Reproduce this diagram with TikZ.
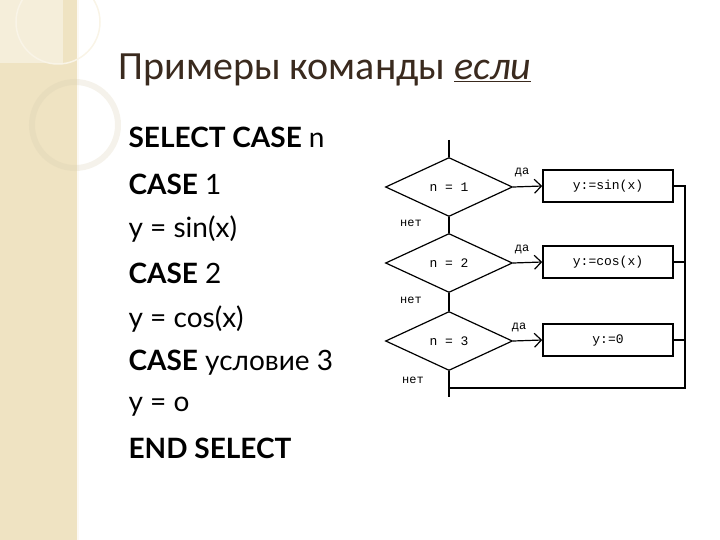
\documentclass[tikz,border=0pt]{standalone}
\usepackage{fontspec}
\setmainfont{Carlito}
\newfontfamily\gillfont{Lato}
\newfontfamily\monofont{Liberation Mono}
\usetikzlibrary{shapes.geometric,arrows.meta}
\definecolor{strip}{HTML}{EFE3C2}
\definecolor{titlecol}{HTML}{3A2A1E}
\tikzset{
  cond/.style={diamond, draw, line width=1.2pt, aspect=2.15, minimum width=127pt, minimum height=59pt, inner sep=0pt, font=\monofont\fontsize{13}{13}\selectfont},
  act/.style={rectangle, draw, line width=1.6pt, minimum width=130pt, minimum height=32pt, font=\monofont\fontsize{13}{13}\selectfont},
  lbl/.style={font=\monofont\fontsize{12}{12}\selectfont, inner sep=1pt},
  codeline/.style={anchor=west, font=\gillfont\fontsize{28}{28}\selectfont, inner sep=0pt}
}
\begin{document}
\begin{tikzpicture}[x=1pt, y=-1pt, every path/.style={line width=1.2pt}]
\useasboundingbox (0,0) rectangle (720,540);
% background strip
\fill[strip] (0,0) rectangle (78,540);
\fill[strip!60!white] (0,0) rectangle (63,63);
\draw[white!80!strip, line width=2pt] (78,0) -- (78,540);
\draw[white!60!strip, line width=1.5pt] (58,22) circle (42);
\draw[strip!90!black, line width=6pt, opacity=0.25] (75,125) circle (43);

% title
\node[anchor=west, text=titlecol, font=\fontsize{40}{40}\selectfont, inner sep=0pt] (title) at (118,70)
  {Примеры команды \underline{\textit{если}}};

% code
\node[codeline] (l1) at (128,137) {\textbf{SELECT CASE} n};
\node[codeline] (l2) at (128,184) {\textbf{CASE} 1};
\node[codeline] (l3) at (128,229) {y = sin(x)};
\node[codeline] (l4) at (128,273) {\textbf{CASE} 2};
\node[codeline] (l5) at (128,319) {y = cos(x)};
\node[codeline] (l6) at (128,363) {\textbf{CASE} условие 3};
\node[codeline] (l7) at (128,407) {y = o};
\node[codeline] (l8) at (128,448) {\textbf{END SELECT}};

% flowchart
\coordinate (start) at (449,140);
\node[cond] (c1) at (449,187) {n = 1};
\node[cond] (c2) at (449,263) {n = 2};
\node[cond] (c3) at (449,341) {n = 3};
\node[act] (a1) at (608,186) {y:=sin(x)};
\node[act] (a2) at (608,262) {y:=cos(x)};
\node[act] (a3) at (608,340) {y:=0};
\coordinate (rt) at (685,186);
\coordinate (rb) at (685,388);
\coordinate (end) at (449,397);

\draw (start) -- (c1.north);
\draw[line width=2.5pt] (c1.south) -- (c2.north);
\draw (c2.south) -- (c3.north);
\draw (c3.south) -- (end);
\draw[-{Straight Barb[length=7pt]}] (c1.east) -- (a1.west);
\draw[-{Straight Barb[length=7pt]}] (c2.east) -- (a2.west);
\draw[-{Straight Barb[length=7pt]}] (c3.east) -- (a3.west);
\draw[line width=1.6pt] (a1.east) -- (rt) -- (rb) -- (rb -| c3.south);
\draw[line width=1.6pt] (a2.east) -- (a2.east -| rt);
\draw[line width=1.6pt] (a3.east) -- (a3.east -| rt);

\node[lbl] at (522,172) {да};
\node[lbl] at (522,249) {да};
\node[lbl] at (519,327) {да};
\node[lbl] at (411,223) {нет};
\node[lbl] at (411,300) {нет};
\node[lbl] at (413,380) {нет};
\end{tikzpicture}
\end{document}
